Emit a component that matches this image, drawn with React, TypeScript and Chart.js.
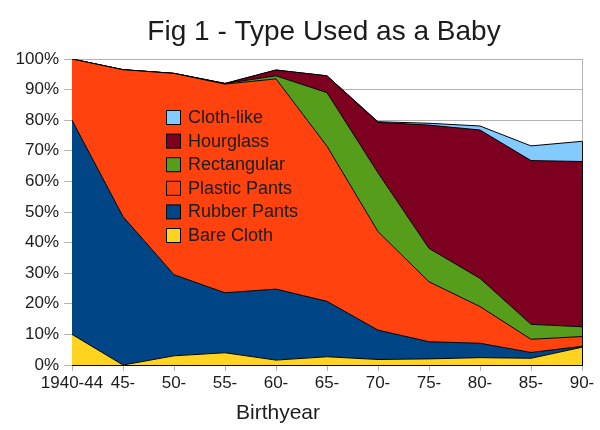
import React, { useEffect, useRef } from 'react';
import { Chart, registerables } from 'chart.js';
Chart.register(...registerables);

const categories = ['1940-44', '45-', '50-', '55-', '60-', '65-', '70-', '75-', '80-', '85-', '90-'];
const bareCloth = [10, 0, 3, 4, 1.6, 2.7, 1.8, 2, 2.4, 2.2, 5.8];
const rubberPants = [70, 48.5, 26.5, 19.6, 23.2, 18.1, 9.6, 5.6, 4.7, 1.9, 0.3];
const plasticPants = [20, 48, 65.8, 68.2, 68.7, 50.7, 32.2, 19.6, 12, 4.3, 3.2];
const rectangular = [0, 0, 0, 0.2, 1, 17.5, 19.2, 10.9, 9.2, 4.9, 3.2];
const hourglass = [0, 0, 0, 0, 1.9, 5.5, 16.5, 40.3, 48.5, 53.5, 54];
const clothLike = [0, 0, 0, 0, 0, 0, 0.2, 0.6, 1.3, 4.8, 6.6];

const seriesNames = ['Bare Cloth', 'Rubber Pants', 'Plastic Pants', 'Rectangular', 'Hourglass', 'Cloth-like'];
const seriesColors = ['#FFD320', '#004586', '#FF420E', '#579D1C', '#7E0021', '#83CAFF'];
const seriesValues = [bareCloth, rubberPants, plasticPants, rectangular, hourglass, clothLike];

const chartTitle = 'Fig 1 - Type Used as a Baby';
const xAxisTitle = 'Birthyear';
const FONT = "'Liberation Sans', Arial, sans-serif";
const TEXT = '#1c1c1c';

const decorPlugin = {
  id: 'decor',
  beforeDatasetsDraw(chart: any) {
    const { ctx, chartArea } = chart;
    ctx.save();
    ctx.strokeStyle = '#b3b3b3';
    ctx.lineWidth = 1;
    ctx.beginPath();
    ctx.moveTo(Math.round(chartArea.right) + 0.5, chartArea.top);
    ctx.lineTo(Math.round(chartArea.right) + 0.5, chartArea.bottom);
    ctx.stroke();
    ctx.restore();
  },
  afterDatasetsDraw(chart: any) {
    const { ctx, chartArea } = chart;
    const n = chart.data.datasets.length;
    const topMeta = chart.getDatasetMeta(n - 1);
    const lastPt = topMeta.data[topMeta.data.length - 1];
    ctx.save();
    ctx.strokeStyle = '#000';
    ctx.lineWidth = 1;
    ctx.beginPath();
    ctx.moveTo(Math.round(chartArea.right) + 0.5, chartArea.bottom);
    ctx.lineTo(Math.round(chartArea.right) + 0.5, lastPt.y);
    ctx.stroke();

    // legend (reversed order, inside plot)
    ctx.font = `18px ${FONT}`;
    ctx.textBaseline = 'middle';
    ctx.textAlign = 'left';
    const ds = chart.data.datasets;
    for (let k = 0; k < n; k++) {
      const d = ds[n - 1 - k];
      const y = 110 + k * 23.6;
      ctx.fillStyle = d.backgroundColor;
      ctx.fillRect(166.5, y + 0.5, 14, 14);
      ctx.strokeStyle = '#000';
      ctx.strokeRect(166.5, y + 0.5, 14, 14);
      ctx.fillStyle = TEXT;
      ctx.fillText(d.label, 188, y + 8);
    }
    ctx.restore();
  },
  afterDraw(chart: any) {
    const { ctx } = chart;
    ctx.save();
    ctx.fillStyle = TEXT;
    ctx.textAlign = 'center';
    ctx.textBaseline = 'alphabetic';
    ctx.font = `28px ${FONT}`;
    ctx.fillText(chartTitle, 324, 40);
    ctx.font = `21px ${FONT}`;
    ctx.fillText(xAxisTitle, 278, 419);
    ctx.restore();
  },
};

export default function App() {
  const ref = useRef<HTMLCanvasElement | null>(null);
  useEffect(() => {
    if (!ref.current) return;
    const chart = new Chart(ref.current, {
      type: 'line',
      data: {
        labels: categories,
        datasets: seriesValues.map((vals, i) => ({
          label: seriesNames[i],
          data: vals,
          backgroundColor: seriesColors[i],
          borderColor: '#000',
          borderWidth: 1,
          pointRadius: 0,
          tension: 0,
          fill: i === 0 ? 'origin' : '-1',
        })),
      },
      options: {
        responsive: false,
        animation: false,
        devicePixelRatio: 1,
        layout: { padding: { left: 0, right: 18, top: 59, bottom: 0 } },
        plugins: {
          legend: { display: false },
          title: { display: false },
          tooltip: { enabled: false },
        },
        scales: {
          x: {
            offset: false,
            grid: { drawOnChartArea: false, color: '#b3b3b3', tickLength: 6 },
            border: { color: '#000' },
            ticks: { autoSkip: false, maxRotation: 0, color: TEXT, font: { family: FONT, size: 17 }, padding: 2 },
            afterFit: (s: any) => { s.height = 65; },
          },
          y: {
            stacked: true,
            min: 0,
            max: 100,
            grid: { color: '#b3b3b3', tickLength: 8 },
            border: { color: '#000' },
            ticks: {
              stepSize: 10,
              color: TEXT,
              font: { family: FONT, size: 17 },
              padding: 5,
              callback: (v: any) => `${v}%`,
            },
            afterFit: (s: any) => { s.width = 72; },
          },
        },
      },
      plugins: [decorPlugin],
    });
    return () => chart.destroy();
  }, []);
  return (
    <div style={{ position: 'absolute', left: 0, top: 0, width: 600, height: 430, background: '#fff' }}>
      <canvas ref={ref} width={600} height={430} />
    </div>
  );
}
